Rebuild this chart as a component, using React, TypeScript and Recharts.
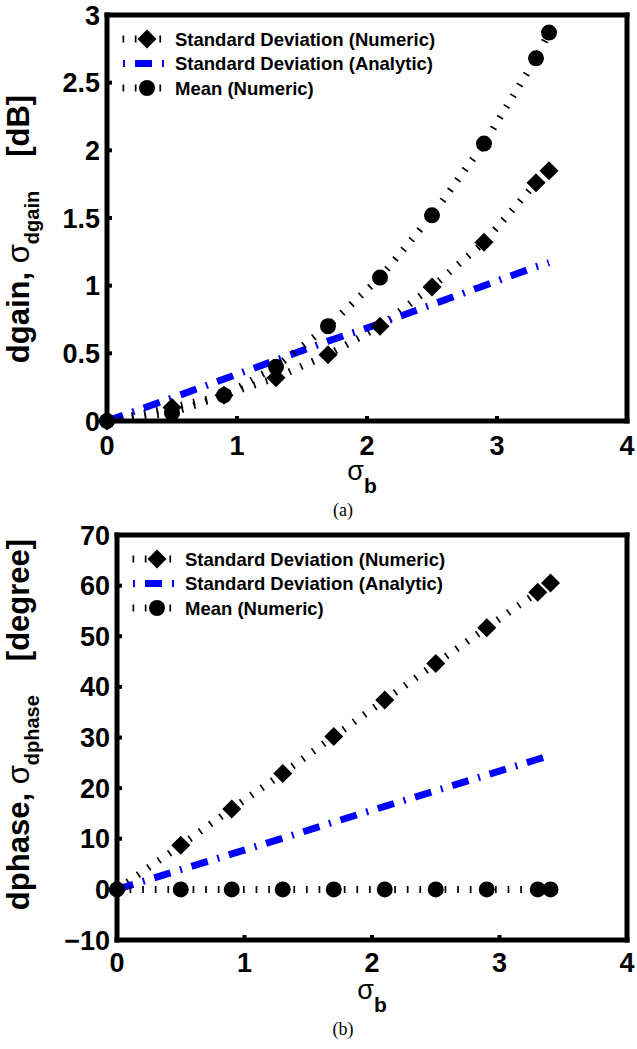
import React from 'react';
import { LineChart, Line, XAxis, YAxis, Legend } from 'recharts';

// ---------------- data ----------------
const sigmaB = [0, 0.5, 0.9, 1.3, 1.7, 2.1, 2.5, 2.9, 3.3, 3.4];

const gainStdNumeric = [0, 0.1, 0.19, 0.32, 0.49, 0.7, 0.99, 1.32, 1.76, 1.85];
const gainStdAnalytic = [0, 0.17, 0.31, 0.45, 0.59, 0.72, 0.86, 1.0, 1.14, 1.17];
const gainMean = [0, 0.06, 0.19, 0.4, 0.7, 1.06, 1.52, 2.05, 2.68, 2.87];

const phaseStdNumeric = [0, 8.7, 15.9, 22.9, 30.2, 37.4, 44.6, 51.7, 58.7, 60.5];
const phaseStdAnalytic = [0, 3.9, 7.0, 10.1, 13.3, 16.4, 19.5, 22.6, 25.7, 26.5];
const phaseMean = [0, 0, 0, 0, 0, 0, 0, 0, 0, 0];

const xTicks = [0, 1, 2, 3, 4];
const gainTicks = [0, 0.5, 1, 1.5, 2, 2.5, 3];
const phaseTicks = [-10, 0, 10, 20, 30, 40, 50, 60, 70];

const seriesKeys = ['std', 'analytic', 'mean'];
const seriesNames = [
  'Standard Deviation (Numeric)',
  'Standard Deviation (Analytic)',
  'Mean (Numeric)',
];

const gainData = sigmaB.map((x, i) => ({
  x,
  std: gainStdNumeric[i],
  analytic: gainStdAnalytic[i],
  mean: gainMean[i],
}));
const phaseData = sigmaB.map((x, i) => ({
  x,
  std: phaseStdNumeric[i],
  analytic: phaseStdAnalytic[i],
  mean: phaseMean[i],
}));

// ---------------- styling ----------------
const FONT = '"Liberation Sans", Arial, Helvetica, sans-serif';
const SERIF = '"Liberation Serif", "Times New Roman", serif';
const BLUE = '#0000ff';
const DOT_DASH = '1.7 10.9';
const BLUE_DASH = '17 10 2 10';

const axisLineStyle = { stroke: '#000', strokeWidth: 5, strokeLinecap: 'square' as const };
const tickLineStyle = { stroke: '#000', strokeWidth: 4 };
const tickStyle = { fontSize: 27, fontWeight: 'bold', fill: '#000', fontFamily: FONT };

const renderDiamond = (p: any) => {
  const { cx, cy, index } = p;
  if (cx == null || cy == null) return <g key={`dm-${index}`} />;
  const s = 9.5;
  return (
    <polygon
      key={`dm-${index}`}
      points={`${cx},${cy - s} ${cx + s},${cy} ${cx},${cy + s} ${cx - s},${cy}`}
      fill="#000"
    />
  );
};

const renderCircle = (p: any) => {
  const { cx, cy, index } = p;
  if (cx == null || cy == null) return <g key={`ci-${index}`} />;
  return <circle key={`ci-${index}`} cx={cx} cy={cy} r={8} fill="#000" />;
};

const LegendContent = ({ payload }: any) => {
  const items = [...(payload || [])].sort(
    (a: any, b: any) => seriesKeys.indexOf(String(a.dataKey)) - seriesKeys.indexOf(String(b.dataKey))
  );
  return (
    <svg width={420} height={95} style={{ display: 'block', overflow: 'visible' }}>
      {items.map((item: any, i: number) => {
        const y = 24 + i * 24.5;
        const key = String(item.dataKey);
        return (
          <g key={key}>
            {key === 'analytic' ? (
              <line x1={16} x2={57} y1={y} y2={y} stroke={BLUE} strokeWidth={7} strokeDasharray="2 10 17 10 2" />
            ) : (
              <line x1={15.5} x2={55} y1={y} y2={y} stroke="#000" strokeWidth={7} strokeDasharray="1.7 10.6" />
            )}
            {key === 'std' && (
              <polygon points={`40,${y - 9.5} 49.5,${y} 40,${y + 9.5} 30.5,${y}`} fill="#000" />
            )}
            {key === 'mean' && <circle cx={40} cy={y} r={8} fill="#000" />}
            <text x={68} y={y + 6.5} fontFamily={FONT} fontWeight="bold" fontSize={18.5} fill="#000">
              {item.value}
            </text>
          </g>
        );
      })}
    </svg>
  );
};

const YLabel = (props: any) => {
  const { viewBox, main, sub, unit, shift } = props;
  const x = 29;
  const cy = viewBox.y + viewBox.height / 2 + shift;
  return (
    <text
      transform={`rotate(-90 ${x} ${cy})`}
      x={x}
      y={cy}
      textAnchor="middle"
      fontFamily={FONT}
      fontWeight="bold"
      fontSize={31}
      fill="#000"
    >
      {main}
      <tspan fontWeight="normal">σ</tspan>
      <tspan fontSize={20} dy={10}>{sub}</tspan>
      <tspan dy={-10} dx={34}>{unit}</tspan>
    </text>
  );
};

const XLabel = (props: any) => {
  const { viewBox, caption, dxc } = props;
  const cx = viewBox.x + viewBox.width / 2 + dxc;
  const y = viewBox.y;
  return (
    <g>
      <text x={cx} y={y + 59} textAnchor="middle" fontFamily={FONT} fontSize={27} fill="#000">
        σ
        <tspan fontWeight="bold" fontSize={21} dy={13}>b</tspan>
      </text>
      <text x={343} y={y + 95} textAnchor="middle" fontFamily={SERIF} fontSize={18} fill="#000">
        {caption}
      </text>
    </g>
  );
};

type PanelProps = {
  top: number;
  height: number;
  plotLeft: number;
  plotTop: number;
  plotBottom: number;
  data: any[];
  yDomain: [number, number];
  yTicks: number[];
  yFmt: (v: number) => string;
  xTickMargin: number;
  yMain: string;
  ySub: string;
  yUnit: string;
  yShift: number;
  caption: string;
  xLabelDx: number;
};

const Panel = (p: PanelProps) => (
  <div style={{ position: 'absolute', left: 0, top: p.top, width: 637, height: p.height }}>
    <LineChart
      width={637}
      height={p.height}
      data={p.data}
      margin={{ top: p.plotTop - 5, right: 0, bottom: 0, left: 0 }}
    >
      <XAxis
        xAxisId={0}
        dataKey="x"
        type="number"
        domain={[0, 4]}
        ticks={xTicks}
        interval={0}
        height={p.height - p.plotBottom}
        axisLine={axisLineStyle}
        tickLine={tickLineStyle}
        tickSize={-5}
        tickMargin={p.xTickMargin}
        tick={tickStyle}
        label={<XLabel caption={p.caption} dxc={p.xLabelDx} />}
      />
      <XAxis
        xAxisId="top"
        orientation="top"
        dataKey="x"
        type="number"
        domain={[0, 4]}
        ticks={xTicks}
        interval={0}
        height={5}
        axisLine={axisLineStyle}
        tickLine={tickLineStyle}
        tickSize={-5}
        tick={false}
      />
      <YAxis
        yAxisId={0}
        type="number"
        domain={p.yDomain}
        ticks={p.yTicks}
        interval={0}
        width={p.plotLeft}
        axisLine={axisLineStyle}
        tickLine={tickLineStyle}
        tickSize={-5}
        tickMargin={12}
        tick={tickStyle}
        tickFormatter={p.yFmt}
        label={<YLabel main={p.yMain} sub={p.ySub} unit={p.yUnit} shift={p.yShift} />}
      />
      <YAxis
        yAxisId="right"
        orientation="right"
        type="number"
        domain={p.yDomain}
        ticks={p.yTicks}
        interval={0}
        width={10}
        axisLine={axisLineStyle}
        tickLine={tickLineStyle}
        tickSize={-5}
        tick={false}
        allowDataOverflow
      />
      <Legend
        layout="vertical"
        verticalAlign="middle"
        align="center"
        content={<LegendContent />}
        wrapperStyle={{ left: p.plotLeft, top: p.plotTop, width: 420, height: 95, margin: 0 }}
      />
      <Line
        type="linear"
        dataKey="std"
        name={seriesNames[0]}
        stroke="#000"
        strokeWidth={7}
        strokeDasharray={DOT_DASH}
        dot={renderDiamond}
        activeDot={false}
        isAnimationActive={false}
      />
      <Line
        type="linear"
        dataKey="analytic"
        name={seriesNames[1]}
        stroke={BLUE}
        strokeWidth={7}
        strokeDasharray={BLUE_DASH}
        dot={false}
        activeDot={false}
        isAnimationActive={false}
      />
      <Line
        type="linear"
        dataKey="mean"
        name={seriesNames[2]}
        stroke="#000"
        strokeWidth={7}
        strokeDasharray={DOT_DASH}
        dot={renderCircle}
        activeDot={false}
        isAnimationActive={false}
      />
    </LineChart>
  </div>
);

const fmtGain = (v: number) => String(v);
const fmtPhase = (v: number) => (v < 0 ? `\u2212${Math.abs(v)}` : String(v));

export default function App() {
  return (
    <div style={{ position: 'absolute', left: 0, top: 0, width: 637, height: 1049, background: '#fff' }}>
      <Panel
        top={0}
        height={525}
        plotLeft={107}
        plotTop={15}
        plotBottom={421}
        data={gainData}
        yDomain={[0, 3]}
        yTicks={gainTicks}
        yFmt={fmtGain}
        xTickMargin={20}
        yMain="dgain, "
        ySub="dgain"
        yUnit="[dB]"
        yShift={11}
        caption="(a)"
        xLabelDx={-5}
      />
      <Panel
        top={505}
        height={544}
        plotLeft={117}
        plotTop={30}
        plotBottom={435}
        data={phaseData}
        yDomain={[-10, 70]}
        yTicks={phaseTicks}
        yFmt={fmtPhase}
        xTickMargin={18}
        yMain="dphase, "
        ySub="dphase"
        yUnit="[degree]"
        yShift={-13}
        caption="(b)"
        xLabelDx={0}
      />
    </div>
  );
}
